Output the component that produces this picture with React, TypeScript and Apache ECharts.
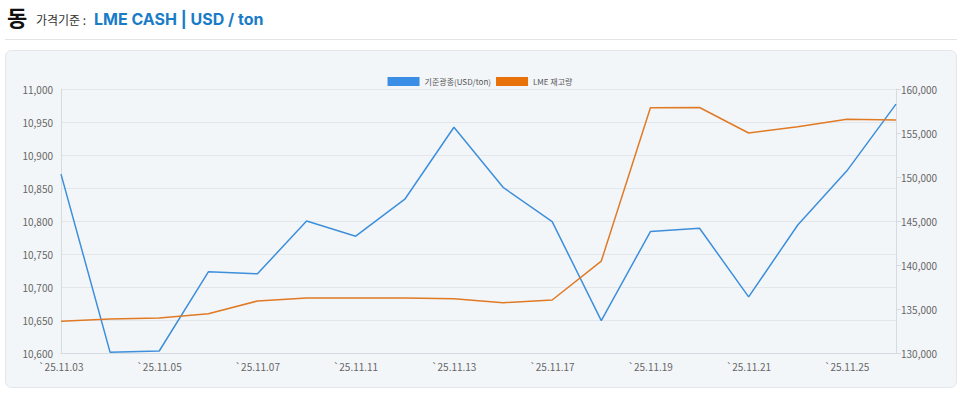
import React, { useEffect, useRef } from "react";
import * as echarts from "echarts";

const categories = [
  "`25.11.03", "`25.11.04", "`25.11.05", "`25.11.06", "`25.11.07", "`25.11.10",
  "`25.11.11", "`25.11.12", "`25.11.13", "`25.11.14", "`25.11.17", "`25.11.18",
  "`25.11.19", "`25.11.20", "`25.11.21", "`25.11.24", "`25.11.25", "`25.11.26",
];
const priceValues = [
  10871, 10601, 10603, 10723, 10720, 10800, 10777, 10833, 10942,
  10851, 10799, 10649, 10784, 10789, 10685, 10794, 10876, 10977,
];
const stockValues = [
  133600, 133860, 133980, 134470, 135910, 136250, 136250, 136250, 136170,
  135720, 136020, 140450, 157880, 157900, 155000, 155720, 156560, 156480,
];
const seriesNames = ["기준광종(USD/ton)", "LME 재고량"];
const titleMain = "동";
const titleSub = "가격기준 : ";
const titleUnit = "LME CASH | USD / ton";

export default function App() {
  const ref = useRef<HTMLDivElement>(null);
  useEffect(() => {
    document.body.style.margin = "0";
    const chart = echarts.init(ref.current!, null, { renderer: "svg" });
    const font = "'Noto Sans CJK KR', 'Noto Sans', sans-serif";
    const latin = "Inter, 'Noto Sans CJK KR', sans-serif";
    chart.setOption({
      animation: false,
      textStyle: { fontFamily: font },
      graphic: [
        { type: "rect", shape: { x: 5.5, y: 50.5, width: 951, height: 337, r: 6 }, style: { fill: "#f3f6f9", stroke: "#e3e7eb", lineWidth: 1 }, z: -10 },
        { type: "line", shape: { x1: 5, y1: 39.5, x2: 957, y2: 39.5 }, style: { stroke: "#e4e4e4", lineWidth: 1 } },
        { type: "text", x: 7, y: 5, style: { text: titleMain, fontSize: 22, fontWeight: "bold", fill: "#111", fontFamily: font } },
        { type: "text", x: 36, y: 13, style: { text: titleSub, fontSize: 12, fill: "#333", fontFamily: font } },
        { type: "text", x: 94, y: 11, style: { text: titleUnit, fontSize: 16, fontWeight: "bold", fill: "#1a7bc7", fontFamily: latin } },
      ],
      legend: {
        top: 72,
        left: "center",
        itemWidth: 32,
        itemHeight: 9,
        itemGap: 5,
        icon: "rect",
        textStyle: { fontSize: 8, color: "#555" },
        data: seriesNames,
      },
      grid: { left: 61, right: 64, top: 89, bottom: 40 },
      xAxis: {
        type: "category",
        data: categories,
        boundaryGap: false,
        axisLine: { lineStyle: { color: "#d5dbe2" } },
        axisTick: { show: false },
        axisLabel: { interval: 1, color: "#666", fontSize: 10, margin: 8 },
        splitLine: { show: false },
      },
      yAxis: [
        {
          type: "value",
          min: 10600,
          max: 11000,
          interval: 50,
          axisLine: { show: true, lineStyle: { color: "#d5dbe2" } },
          axisTick: { show: false },
          axisLabel: { color: "#666", fontSize: 10, margin: 8, formatter: (v: number) => v.toLocaleString("en-US") },
          splitLine: { lineStyle: { color: "#e3e7eb" } },
        },
        {
          type: "value",
          min: 130000,
          max: 160000,
          interval: 5000,
          position: "right",
          axisLine: { show: true, lineStyle: { color: "#d5dbe2" } },
          axisTick: { show: true, length: 5, lineStyle: { color: "#d5dbe2" } },
          axisLabel: { color: "#666", fontSize: 10, margin: 5, formatter: (v: number) => v.toLocaleString("en-US") },
          splitLine: { show: false },
        },
      ],
      series: [
        {
          name: seriesNames[0],
          type: "line",
          data: priceValues,
          yAxisIndex: 0,
          symbol: "none",
          itemStyle: { color: "#3a8ee6" },
          lineStyle: { color: "#3d8fdb", width: 1.5 },
        },
        {
          name: seriesNames[1],
          type: "line",
          data: stockValues,
          yAxisIndex: 1,
          symbol: "none",
          itemStyle: { color: "#e8710a" },
          lineStyle: { color: "#e07a25", width: 1.5 },
        },
      ],
    });
    return () => chart.dispose();
  }, []);
  return <div ref={ref} style={{ width: 960, height: 393 }} />;
}
